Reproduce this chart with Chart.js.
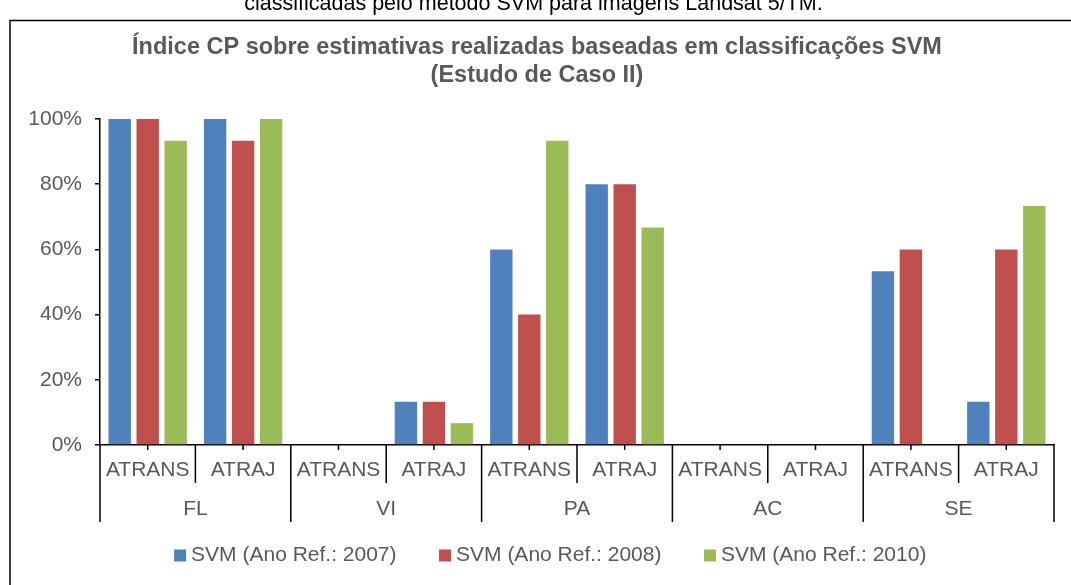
<!DOCTYPE html>
<html>
<head>
<meta charset="utf-8">
<script src="https://cdn.jsdelivr.net/npm/chart.js@4.4.1/dist/chart.umd.min.js"></script>
<style>
html, body { margin: 0; padding: 0; background: #fff; }
#wrap { width: 1071px; height: 585px; position: relative; overflow: hidden; }
canvas { display: block; }
</style>
</head>
<body>
<div id="wrap"><canvas id="c" width="1071" height="585"></canvas></div>
<script>
// ---- data ----
const pageCaption = 'classificadas pelo método SVM para imagens Landsat 5/TM.';
const titleLines = ['Índice CP sobre estimativas realizadas baseadas em classificações SVM', '(Estudo de Caso II)'];
const groupLabels = ['FL', 'VI', 'PA', 'AC', 'SE'];
const categoryLabels = ['ATRANS', 'ATRAJ', 'ATRANS', 'ATRAJ', 'ATRANS', 'ATRAJ', 'ATRANS', 'ATRAJ', 'ATRANS', 'ATRAJ'];
const seriesNames = ['SVM (Ano Ref.: 2007)', 'SVM (Ano Ref.: 2008)', 'SVM (Ano Ref.: 2010)'];
const svm2007 = [100, 100, 0, 13.3, 60, 80, 0, 0, 53.3, 13.3];
const svm2008 = [100, 93.3, 0, 13.3, 40, 80, 0, 0, 60, 60];
const svm2010 = [93.3, 100, 0, 6.7, 93.3, 66.7, 0, 0, 0, 73.3];
const yTicks = [0, 20, 40, 60, 80, 100];

const FONT = "'Liberation Sans', Arial, sans-serif";
const GREY = '#595959';

const decor = {
  id: 'decor',
  afterLayout(chart) {
    // let the y tick labels extend left of the axis box without clipping
    chart.scales.y.left = 0;
  },
  beforeDraw(chart) {
    const ctx = chart.ctx;
    ctx.save();
    ctx.fillStyle = '#fff';
    ctx.fillRect(0, 0, chart.width, chart.height);
    // clipped caption above the frame
    ctx.fillStyle = '#000';
    ctx.font = '21.5px ' + FONT;
    ctx.textAlign = 'center';
    ctx.textBaseline = 'alphabetic';
    ctx.fillText(pageCaption, 533.5, 10);
    // frame
    ctx.strokeStyle = '#000';
    ctx.lineWidth = 1.5;
    ctx.strokeRect(10, 20.5, 1200, 1000);
    // title
    ctx.fillStyle = GREY;
    ctx.font = 'bold 23.5px ' + FONT;
    ctx.textBaseline = 'middle';
    ctx.fillText(titleLines[0], 537, 48);
    ctx.fillText(titleLines[1], 537, 76);
    ctx.restore();
  },
  afterDraw(chart) {
    const ctx = chart.ctx;
    const xs = chart.scales.x;
    const n = categoryLabels.length;
    const step = xs.getPixelForValue(1) - xs.getPixelForValue(0);
    const y0 = chart.chartArea.bottom;
    ctx.save();
    ctx.strokeStyle = '#000';
    ctx.lineWidth = 1.5;
    ctx.beginPath();
    for (let i = 0; i < n; i++) {
      const c = xs.getPixelForValue(i);
      ctx.moveTo(c, y0); ctx.lineTo(c, y0 + 5);
    }
    for (let i = 0; i <= n; i++) {
      const bx = xs.getPixelForValue(0) - step / 2 + i * step;
      const len = (i % 2 === 0) ? 77 : 38;
      ctx.moveTo(bx, y0); ctx.lineTo(bx, y0 + len);
    }
    ctx.stroke();
    ctx.fillStyle = GREY;
    ctx.font = '21px ' + FONT;
    ctx.textAlign = 'center';
    ctx.textBaseline = 'middle';
    for (let i = 0; i < n; i++) {
      ctx.fillText(categoryLabels[i], xs.getPixelForValue(i), y0 + 25);
    }
    for (let g = 0; g < groupLabels.length; g++) {
      const c = (xs.getPixelForValue(2 * g) + xs.getPixelForValue(2 * g + 1)) / 2;
      ctx.fillText(groupLabels[g], c, y0 + 64);
    }
    ctx.restore();
  }
};

const colors = ['#4F81BD', '#C0504D', '#9BBB59'];
const seriesData = [svm2007, svm2008, svm2010];

new Chart(document.getElementById('c'), {
  type: 'bar',
  data: {
    labels: categoryLabels,
    datasets: seriesData.map((d, i) => ({
      label: seriesNames[i],
      data: d,
      backgroundColor: colors[i],
      borderWidth: 0
    }))
  },
  options: {
    responsive: false,
    animation: false,
    layout: { padding: { left: 52, right: 17, top: 119, bottom: 9 } },
    datasets: { bar: { categoryPercentage: 0.88, barPercentage: 0.8 } },
    plugins: {
      title: { display: false },
      tooltip: { enabled: false },
      legend: {
        position: 'bottom',
        fullSize: true,
        labels: {
          usePointStyle: true,
          pointStyle: 'rect',
          boxWidth: 1,
          boxHeight: 12,
          padding: 48,
          color: GREY,
          font: { family: FONT, size: 21 }
        }
      }
    },
    scales: {
      x: {
        ticks: { display: false },
        grid: { display: false },
        border: { display: true, color: '#000', width: 1.5 },
        afterFit: s => { s.height = 52; }
      },
      y: {
        min: 0,
        max: 100,
        afterBuildTicks: s => { s.ticks = yTicks.map(v => ({ value: v })); },
        ticks: {
          callback: v => v + '%',
          color: GREY,
          font: { family: FONT, size: 21 },
          padding: 13
        },
        grid: { drawOnChartArea: false, tickLength: 5, color: '#000', lineWidth: 1.5 },
        border: { display: true, color: '#000', width: 1.5 },
        afterFit: s => { s.width = 48; }
      }
    }
  },
  plugins: [decor]
});
</script>
</body>
</html>
